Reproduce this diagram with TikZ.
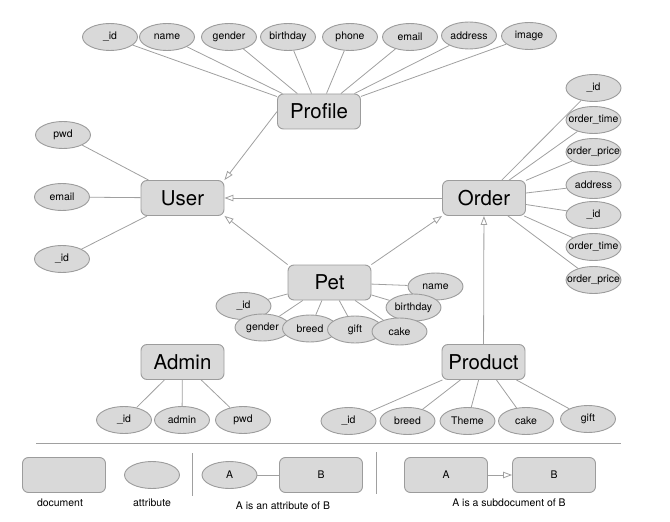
\documentclass[tikz,border=0pt]{standalone}
\usepackage{fontspec}
\setmainfont{TeX Gyre Heros}
\usetikzlibrary{shapes.geometric, arrows.meta}
\definecolor{boxfill}{HTML}{D9D9D9}
\definecolor{boxline}{HTML}{9C9C9C}
\definecolor{wiregray}{HTML}{A0A0A0}
\tikzstyle{doc} = [rectangle, rounded corners=6bp, minimum width=83bp, minimum height=35bp,
draw=boxline, line width=0.9bp, fill=boxfill, font=\fontsize{20.5}{24}\selectfont]
\tikzstyle{attr} = [ellipse, minimum width=55bp, minimum height=27bp, inner xsep=-8bp,
inner ysep=0pt, draw=boxline, line width=0.9bp, fill=boxfill, font=\fontsize{10.5}{12}\selectfont]
\tikzstyle{link} = [draw=wiregray, line width=0.8bp]
\tikzstyle{subarrow} = [draw=wiregray, line width=0.8bp, -{Triangle[open, length=9bp, width=6.5bp]}]
\tikzstyle{caption} = [font=\fontsize{10.5}{12}\selectfont]

\begin{document}
\begin{tikzpicture}[x=1bp, y=-1bp]
            \useasboundingbox (0,0) rectangle (670,522);
            % documents
            \node(profile) [doc] at (319,111.5) {Profile};
            \node(user) [doc] at (182.5,198) {User};
            \node(order) [doc] at (484,198) {Order};
            \node(pet) [doc] at (329.5,282.5) {Pet};
            \node(admin) [doc] at (182.5,362) {Admin};
            \node(product) [doc] at (483.5,362) {Product};
            % profile attributes
            \node(prid) [attr] at (110,37) {\_id};
            \node(prname) [attr] at (167,37) {name};
            \node(prgender) [attr] at (229,37) {gender};
            \node(prbirth) [attr] at (288,37) {birthday};
            \node(prphone) [attr] at (350,37) {phone};
            \node(premail) [attr] at (410,37) {email};
            \node(praddr) [attr] at (469,35.5) {address};
            \node(primage) [attr] at (529,36) {image};
            % user attributes
            \node(uspwd) [attr] at (63,135) {pwd};
            \node(usemail) [attr] at (62,197) {email};
            \node(usid) [attr] at (62,259) {\_id};
            % order attributes
            \node(orid) [attr] at (593.5,88) {\_id};
            \node(ortime) [attr] at (593.5,120) {order\_time};
            \node(orprice) [attr] at (593.5,152) {order\_price};
            \node(oraddr) [attr] at (593.5,185) {address};
            \node(oridb) [attr] at (593.5,215) {\_id};
            \node(ortimeb) [attr] at (593.5,247) {order\_time};
            \node(orpriceb) [attr] at (593.5,280) {order\_price};
            % pet attributes
            \node(peid) [attr] at (243.5,306) {\_id};
            \node(pegender) [attr] at (262.5,327.5) {gender};
            \node(pebreed) [attr] at (310,328.5) {breed};
            \node(pegift) [attr] at (355,329.5) {gift};
            \node(pename) [attr] at (435.5,286.5) {name};
            \node(pebirth) [attr] at (413.5,307.5) {birthday};
            \node(pecake) [attr] at (399.5,331.5) {cake};
            % admin attributes
            \node(adid) [attr] at (124,420) {\_id};
            \node(adadmin) [attr] at (182,420) {admin};
            \node(adpwd) [attr] at (243,420) {pwd};
            % product attributes
            \node(poid) [attr] at (348.5,421) {\_id};
            \node(pobreed) [attr] at (407.5,421) {breed};
            \node(potheme) [attr] at (467.5,421) {Theme};
            \node(pocake) [attr] at (526,421) {cake};
            \node(pogift) [attr] at (588,419) {gift};

            \draw[link] (profile) -- (prid) (profile) -- (prname) (profile) -- (prgender)
                (profile) -- (prbirth) (profile) -- (prphone) (profile) -- (premail)
                (profile) -- (praddr) (profile) -- (primage);
            \draw[link] (user) -- (uspwd) (user) -- (usemail) (user) -- (usid);
            \draw[link] (order) -- (orid) (order) -- (ortime) (order) -- (orprice)
                (order) -- (oraddr) (order) -- (oridb) (order) -- (ortimeb) (order) -- (orpriceb);
            \draw[link] (pet) -- (peid) (pet) -- (pegender) (pet) -- (pebreed) (pet) -- (pegift)
                (pet) -- (pename) (pet) -- (pebirth) (pet) -- (pecake);
            \draw[link] (admin) -- (adid) (admin) -- (adadmin) (admin) -- (adpwd);
            \draw[link] (product) -- (poid) (product) -- (pobreed) (product) -- (potheme)
                (product) -- (pocake) (product) -- (pogift);

            \draw[subarrow] (profile.west) -- (user.north east);
            \draw[subarrow] (order) -- (user);
            \draw[subarrow] (pet.north west) -- (user.south east);
            \draw[subarrow] (pet.north east) -- (order.south west);
            \draw[subarrow] (product) -- (order);

            % legend
            \draw[link] (36,443) -- (621,443);
            \draw[link] (192,453) -- (192,496);
            \draw[link] (376,452) -- (376,494);
            \node(lgdoc) [doc] at (64,475) {};
            \node(lgattr) [attr] at (152,475) {};
            \node(lga) [attr] at (229.5,475) {A};
            \node(lgb) [doc, font=\fontsize{10.5}{12}\selectfont] at (321,475) {B};
            \node(lgsa) [doc, font=\fontsize{10.5}{12}\selectfont] at (446,475) {A};
            \node(lgsb) [doc, font=\fontsize{10.5}{12}\selectfont] at (554,475) {B};
            \draw[link] (lga) -- (lgb);
            \draw[subarrow] (lgsa) -- (lgsb);
            \node(capdoc) [caption] at (60,503) {document};
            \node(capattr) [caption] at (152,503) {attribute};
            \node(capab) [caption] at (283,506) {A is an attribute of B};
            \node(capsub) [caption] at (509,503) {A is a subdocument of B};
        \end{tikzpicture}
\end{document}
